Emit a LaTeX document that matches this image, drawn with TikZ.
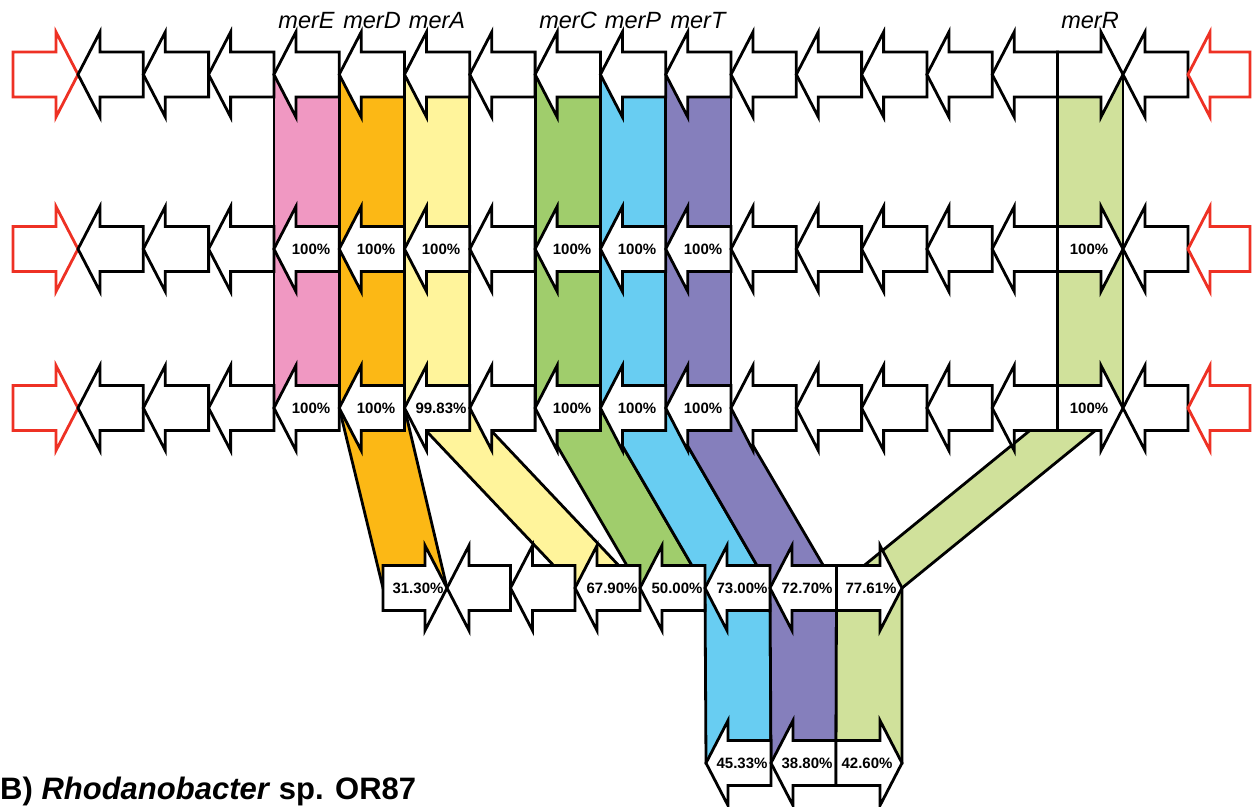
\documentclass[tikz,border=0pt]{standalone}
\usepackage{fontspec}
\setmainfont{Liberation Sans}
\definecolor{cPink}{RGB}{240,152,194}
\definecolor{cOrange}{RGB}{252,184,21}
\definecolor{cYellow}{RGB}{255,244,155}
\definecolor{cGreen}{RGB}{160,205,108}
\definecolor{cBlue}{RGB}{104,205,242}
\definecolor{cPurple}{RGB}{133,127,188}
\definecolor{cLGreen}{RGB}{208,225,155}
\definecolor{cRed}{RGB}{238,49,36}
% left-pointing gene arrow: [style]{tip x}{centre y}{length}
\newcommand\LA[4][]{\filldraw[arr,#1] (#2,#3) -- ++(22,-42.5) -- ++(0,20) -- ++({#4-22},0) -- ++(0,45) -- ++({22-#4},0) -- ++(0,20) -- cycle;}
% right-pointing gene arrow: [style]{left x}{centre y}{length}
\newcommand\RA[4][]{\filldraw[arr,#1] (#2,#3) ++(0,-22.5) -- ++({#4-22},0) -- ++(0,-20) -- ++(22,42.5) -- ++(-22,42.5) -- ++(0,-20) -- ++({22-#4},0) -- cycle;}
\begin{document}
\begin{tikzpicture}[x=1pt,y=-1pt,
  arr/.style={draw=black,fill=white,line width=2.8pt},
  redarr/.style={draw=cRed},
  band/.style={draw=black,line width=2.8pt},
  pct/.style={font=\fontsize{15}{17}\selectfont\bfseries,inner sep=0pt},
  gene/.style={font=\fontsize{23.5}{26}\selectfont\itshape,anchor=base,inner sep=0pt}]
\useasboundingbox (0,0) rectangle (1255,806);
\fill[white] (0,0) rectangle (1255,806);

% ---- homology bands, rows 1 to 3 ----
\filldraw[band,fill=cPink]   (273.9,74.5) rectangle (339.2,408);
\filldraw[band,fill=cOrange] (339.2,74.5) rectangle (404.5,408);
\filldraw[band,fill=cYellow] (404.5,74.5) rectangle (469.8,408);
\filldraw[band,fill=cGreen]  (535.1,74.5) rectangle (600.4,408);
\filldraw[band,fill=cBlue]   (600.4,74.5) rectangle (665.7,408);
\filldraw[band,fill=cPurple] (665.7,74.5) rectangle (731,408);
\filldraw[band,fill=cLGreen] (1057.5,74.5) rectangle (1123,408);

% ---- bands, row 3 to row 4 ----
\filldraw[band,fill=cOrange] (339.2,408) -- (404.5,408) -- (447,588) -- (383,588) -- cycle;
\filldraw[band,fill=cYellow] (404.5,408) -- (469.8,408) -- (640,588) -- (575,588) -- cycle;
\filldraw[band,fill=cGreen]  (535.1,408) -- (600.4,408) -- (705,588) -- (640,588) -- cycle;
\filldraw[band,fill=cBlue]   (600.4,408) -- (665.7,408) -- (770,588) -- (705,588) -- cycle;
\filldraw[band,fill=cPurple] (665.7,408) -- (731,408) -- (836.5,588) -- (770,588) -- cycle;
\filldraw[band,fill=cLGreen] (1057.5,408) -- (1123,408) -- (902,588) -- (836.5,588) -- cycle;

% ---- bands, row 4 to row 5 ----
\filldraw[band,fill=cBlue]   (705,588) -- (770,588) -- (771,763) -- (706,763) -- cycle;
\filldraw[band,fill=cPurple] (770,588) -- (836.5,588) -- (836,763) -- (771,763) -- cycle;
\filldraw[band,fill=cLGreen] (836.5,588) -- (902,588) -- (902,763) -- (836,763) -- cycle;

% ---- gene rows 1 to 3 ----
\foreach \c in {74.5,249,408}{
  \RA[redarr]{13}{\c}{65}
  \foreach \k in {0,...,14}{\LA{78+65.3*\k}{\c}{65.3}}
  \RA{1057.5}{\c}{65.5}
  \LA{1123}{\c}{65}
  \LA[redarr]{1188}{\c}{62}
}

% ---- gene row 4 ----
\RA{383}{588}{64}
\LA{447}{588}{63.5}
\LA{510.5}{588}{64.5}
\LA{575}{588}{65}
\LA{640}{588}{65}
\LA{705}{588}{65}
\LA{770}{588}{66.5}
\RA{836.5}{588}{65.5}

% ---- gene row 5 ----
\LA{706}{763}{65}
\LA{771}{763}{65}
\RA{836}{763}{66}

% ---- gene names ----
\node[gene] (nE) at (306.5,28) {merE};
\node[gene] (nD) at (372,28) {merD};
\node[gene] (nA) at (437,28) {merA};
\node[gene] (nC) at (568,28) {merC};
\node[gene] (nP) at (633,28) {merP};
\node[gene] (nT) at (698,28) {merT};
\node[gene] (nR) at (1090,28) {merR};

% ---- identities, row 2 ----
\foreach \x/\t [count=\i] in {311/100\%,376/100\%,441/100\%,572/100\%,637/100\%,703/100\%,1089/100\%}
  \node[pct] (b\i) at (\x,249) {\t};
% ---- identities, row 3 ----
\foreach \x/\t [count=\i] in {311/100\%,376/100\%,441/99.83\%,572/100\%,637/100\%,703/100\%,1089/100\%}
  \node[pct] (c\i) at (\x,408) {\t};
% ---- identities, row 4 ----
\foreach \x/\t [count=\i] in {418/31.30\%,612/67.90\%,677/50.00\%,742/73.00\%,807/72.70\%,871/77.61\%}
  \node[pct] (d\i) at (\x,588) {\t};
% ---- identities, row 5 ----
\foreach \x/\t [count=\i] in {742/45.33\%,807/38.80\%,867/42.60\%}
  \node[pct] (e\i) at (\x,763) {\t};

% ---- title ----
\node[anchor=base west,inner sep=0pt,font=\fontsize{31}{34}\selectfont\bfseries] (title) at (0,799)
  {B) \textit{Rhodanobacter} sp. OR87};
\end{tikzpicture}
\end{document}
